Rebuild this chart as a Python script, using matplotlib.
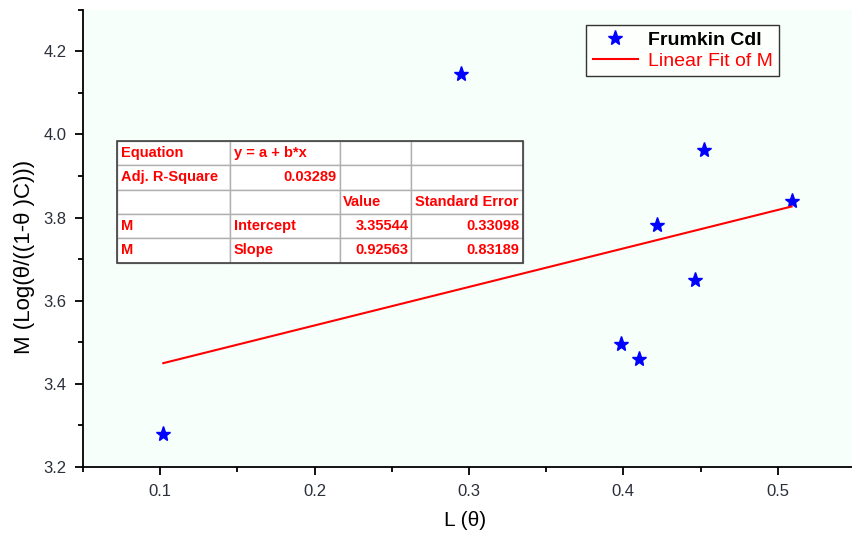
import matplotlib
matplotlib.use("Agg")
import matplotlib.pyplot as plt
from matplotlib.table import Table
from matplotlib.patches import Rectangle
from matplotlib.ticker import MultipleLocator
import numpy as np

plt.rcParams['font.family'] = ['Liberation Sans', 'DejaVu Sans']

# Coverage L(theta) vs. Frumkin isotherm term
theta = [0.102, 0.295, 0.3983, 0.4104, 0.4215, 0.4463, 0.4524, 0.509]
m_val = [3.279, 4.145, 3.497, 3.460, 3.782, 3.650, 3.962, 3.839]

# Linear fit results
intercept = 3.35544
intercept_err = 0.33098
slope = 0.92563
slope_err = 0.83189
adj_r2 = 0.03289

x_ticks = [0.1, 0.2, 0.3, 0.4, 0.5]
x_tick_labels = ['0.1', '0.2', '0.3', '0.4', '0.5']
y_ticks = [3.2, 3.4, 3.6, 3.8, 4.0, 4.2]
y_tick_labels = ['3.2', '3.4', '3.6', '3.8', '4.0', '4.2']

fig = plt.figure(figsize=(8.52, 5.35), dpi=100)
ax = fig.add_axes([0.0974, 0.127, 0.906, 0.855])
ax.set_facecolor('#F7FFFA')

ax.plot(theta, m_val, linestyle='none', marker='*', color='#0000FF',
        markersize=11, label='Frumkin Cdl')
xf = np.array([min(theta), max(theta)])
ax.plot(xf, intercept + slope * xf, color='#FF0000', linewidth=1.5,
        label='Linear Fit of M')

ax.set_xlim(0.05, 0.55)
ax.set_ylim(3.2, 4.3)
ax.xaxis.set_minor_locator(MultipleLocator(0.05))
ax.yaxis.set_minor_locator(MultipleLocator(0.1))
ax.set_xticks(x_ticks)
ax.set_xticklabels(x_tick_labels)
ax.set_yticks(y_ticks)
ax.set_yticklabels(y_tick_labels)

for side in ('top', 'right'):
    ax.spines[side].set_visible(False)
for side in ('left', 'bottom'):
    ax.spines[side].set_linewidth(1.3)
    ax.spines[side].set_color('black')

ax.tick_params(which='major', direction='out', length=6, width=1.3,
               labelsize=12, labelcolor='#2b2f3a', pad=6)
ax.tick_params(which='minor', direction='out', length=3.5, width=1.3)

ax.set_xlabel('L (θ)', fontsize=15)
ax.set_ylabel('M (Log(θ/((1-θ )C)))', fontsize=16)
ax.xaxis.set_label_coords(0.495, -0.095)
ax.yaxis.set_label_coords(-0.062, 0.46)

leg = ax.legend(loc='upper left', bbox_to_anchor=(0.652, 0.967),
                fontsize=14, frameon=True, fancybox=False,
                edgecolor='black', handlelength=2.3, handletextpad=0.5,
                borderpad=0.35, labelspacing=0.15, borderaxespad=0)
leg.get_frame().set_linewidth(1.0)
texts = leg.get_texts()
texts[0].set_fontweight('bold')
texts[0].set_color('black')
texts[1].set_color('#FF0000')

# Fit parameter table
rows = [
    ['Equation', 'y = a + b*x', '', ''],
    ['Adj. R-Square', f'{adj_r2:.5f}', '', ''],
    ['', '', 'Value', 'Standard Error'],
    ['M', 'Intercept', f'{intercept:.5f}', f'{intercept_err:.5f}'],
    ['M', 'Slope', f'{slope:.5f}', f'{slope_err:.5f}'],
]
aligns = [
    ['left', 'left', 'left', 'left'],
    ['left', 'right', 'left', 'left'],
    ['left', 'left', 'left', 'left'],
    ['left', 'left', 'right', 'right'],
    ['left', 'left', 'right', 'right'],
]
col_w = np.array([113, 110, 71, 112], dtype=float)
col_w = col_w / col_w.sum()

tbl_box = [0.0440, 0.447, 0.526, 0.266]
tab = Table(ax, bbox=tbl_box)
nrows = len(rows)
for r in range(nrows):
    for c in range(4):
        cell = tab.add_cell(r, c, width=col_w[c], height=1.0 / nrows,
                            text=rows[r][c], loc=aligns[r][c],
                            facecolor='white', edgecolor='#b0b0b0')
        cell.set_linewidth(1.0)
        cell.PAD = 0.035
        cell.get_text().set_color('#FF0000')
        cell.get_text().set_fontweight('bold')
tab.auto_set_font_size(False)
tab.set_fontsize(10.5)
ax.add_table(tab)

# darker outer frame of the table
ax.add_patch(Rectangle((tbl_box[0], tbl_box[1]), tbl_box[2], tbl_box[3],
                       transform=ax.transAxes, fill=False,
                       edgecolor='#404040', linewidth=1.2, zorder=5))

fig.savefig('out.png', dpi=100)
